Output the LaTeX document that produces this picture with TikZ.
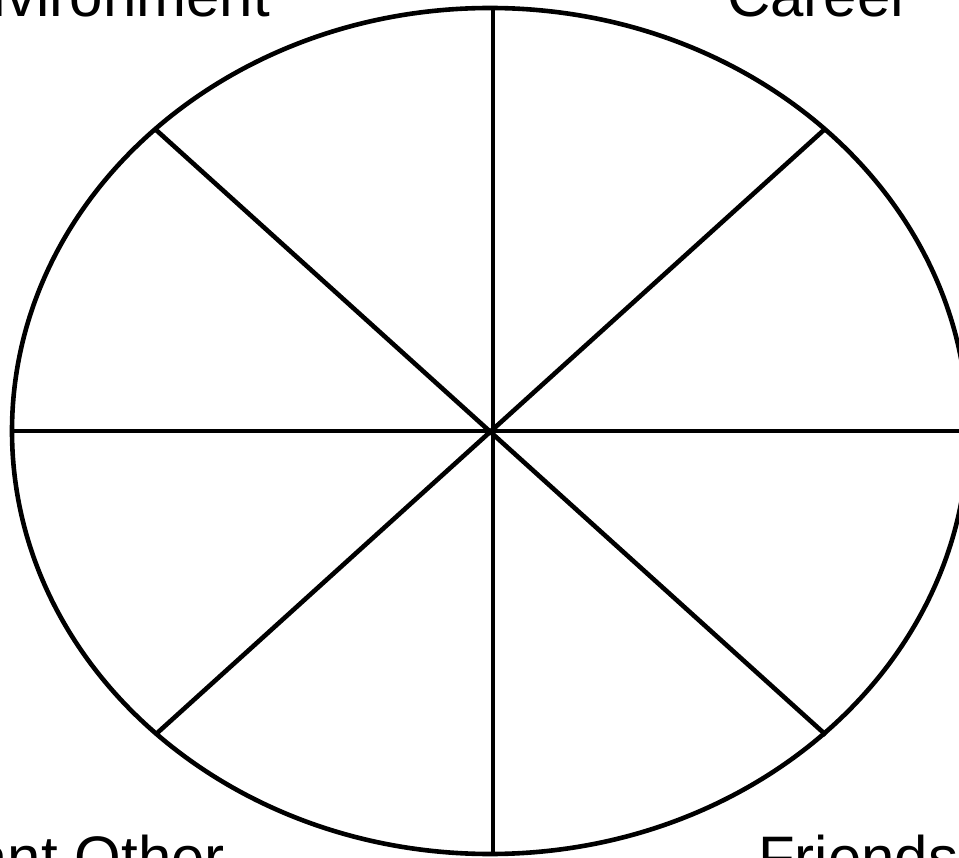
\documentclass[tikz,border=0pt]{standalone}
\usepackage{fontspec}
\setmainfont{Liberation Sans}
\tikzset{
  wheel/.style={line width=4.6pt, black},
  lbl/.style={inner sep=0pt, font=\fontsize{60}{72}\selectfont}
}
\begin{document}
\begin{tikzpicture}[x=1pt, y=-1pt]
\clip (0,0) rectangle (959,858);
\fill[white] (0,0) rectangle (959,858);
\coordinate (c) at (493,431);
\coordinate (t) at (493,8);
\coordinate (b) at (493,854);
\coordinate (l) at (12,431);
\coordinate (r) at (975,431);
\coordinate (tl) at (155,129);
\coordinate (tr) at (825,129);
\coordinate (bl) at (155,735);
\coordinate (br) at (826,735);
\draw[wheel] (490,431) ellipse [x radius=478pt, y radius=423pt];
\draw[wheel] (t) -- (b);
\draw[wheel] (l) -- (r);
\draw[wheel] (tl) -- (br);
\draw[wheel] (tr) -- (bl);
\node[lbl, anchor=base east] (env) at (270,17) {Environment};
\node[lbl, anchor=base west] (car) at (727,17) {Career};
\node[lbl, anchor=base east] (sig) at (225,878) {Significant Other};
\node[lbl, anchor=base west] (fri) at (758,878) {Friends};
\end{tikzpicture}
\end{document}
